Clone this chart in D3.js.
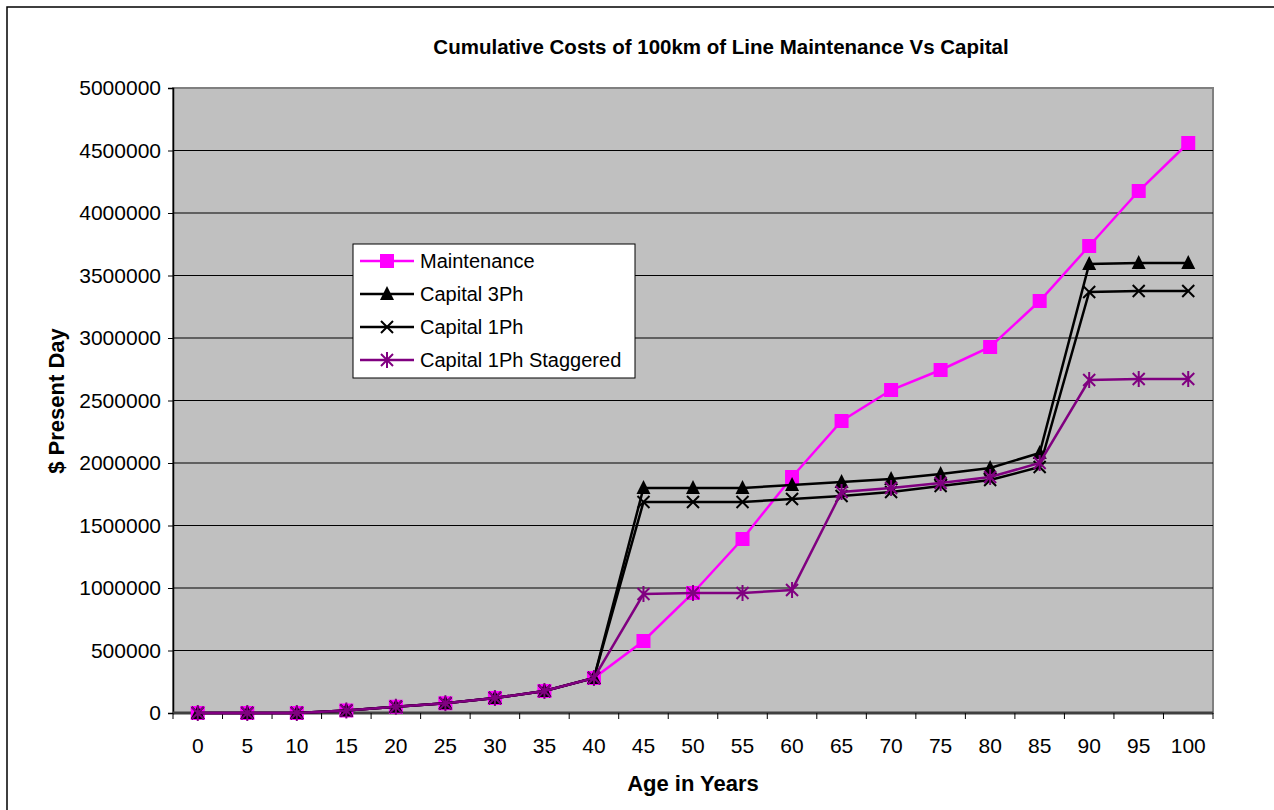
<!DOCTYPE html>
<html>
<head>
<meta charset="utf-8">
<script src="https://cdn.jsdelivr.net/npm/d3@7"></script>
<style>
  body { margin: 0; background: #fff; }
  svg text { font-family: Arial, "Liberation Sans", sans-serif; fill: #000; }
</style>
</head>
<body>
<div id="chart"></div>
<script>
//Data
const ages = [0,5,10,15,20,25,30,35,40,45,50,55,60,65,70,75,80,85,90,95,100];
const maintenance = [0,0,0,20000,50000,78000,120000,176000,280000,576000,960000,1392000,1888000,2336000,2584000,2744000,2928000,3296000,3736000,4176000,4560000];
const capital3Ph = [0,0,0,20000,50000,78000,120000,176000,280000,1800000,1800000,1800000,1824000,1848000,1872000,1912000,1960000,2080000,3592000,3600000,3600000];
const capital1Ph = [0,0,0,20000,50000,78000,120000,176000,280000,1688000,1688000,1688000,1712000,1736000,1768000,1816000,1864000,1968000,3368000,3376000,3376000];
const capital1PhStag = [0,0,0,20000,50000,78000,120000,176000,280000,952000,960000,960000,984000,1768000,1800000,1840000,1888000,2000000,2664000,2672000,2672000];
const yTicks = [0,500000,1000000,1500000,2000000,2500000,3000000,3500000,4000000,4500000,5000000];

const series = [
	{name: 'Maintenance', values: maintenance, color: '#FF00FF', marker: 'square'},
	{name: 'Capital 3Ph', values: capital3Ph, color: '#000000', marker: 'triangle'},
	{name: 'Capital 1Ph', values: capital1Ph, color: '#000000', marker: 'x'},
	{name: 'Capital 1Ph Staggered', values: capital1PhStag, color: '#800080', marker: 'star'}
];

const W = 1274, H = 810;
const plot = {left: 173, right: 1213, top: 88, bottom: 713};

const svg = d3.select('#chart').append('svg').attr('width', W).attr('height', H);

//outer frame (runs off the right and bottom)
svg.append('rect')
	.attr('x', 7).attr('y', 7).attr('width', W + 10).attr('height', H + 10)
	.style('fill', 'none').style('stroke', '#000').style('stroke-width', 1.5);

const x = d3.scaleBand().domain(ages).range([plot.left, plot.right]);
const y = d3.scaleLinear().domain([0, 5000000]).range([plot.bottom, plot.top]);

//plot area
svg.append('rect')
	.attr('x', plot.left).attr('y', plot.top)
	.attr('width', plot.right - plot.left).attr('height', plot.bottom - plot.top)
	.style('fill', '#C0C0C0').style('stroke', '#808080').style('stroke-width', 2);

//gridlines
svg.append('g').selectAll('line')
	.data(yTicks.filter(d => d > 0 && d < 5000000))
	.enter().append('line')
	.attr('x1', plot.left).attr('x2', plot.right)
	.attr('y1', d => y(d)).attr('y2', d => y(d))
	.style('stroke', '#000').style('stroke-width', 1);

//y axis
const yAxis = svg.append('g')
	.attr('transform', `translate(${plot.left},0)`)
	.call(d3.axisLeft(y).tickValues(yTicks).tickFormat(d3.format('d')).tickSize(5).tickPadding(7));
yAxis.selectAll('text').style('font-size', '21px');
yAxis.select('.domain').style('stroke', '#000').style('stroke-width', 1.5);

//x axis: ticks between categories, labels centred on them
const xAxis = svg.append('g')
	.attr('transform', `translate(0,${plot.bottom})`);
xAxis.append('line')
	.attr('x1', plot.left).attr('x2', plot.right)
	.style('stroke', '#404040').style('stroke-width', 3);
xAxis.selectAll('.tick')
	.data(d3.range(ages.length + 1))
	.enter().append('line').attr('class', 'tick')
	.attr('x1', i => plot.left + i * x.step()).attr('x2', i => plot.left + i * x.step())
	.attr('y1', 0).attr('y2', 6)
	.style('stroke', '#000').style('stroke-width', 1);
xAxis.selectAll('.lbl')
	.data(ages)
	.enter().append('text').attr('class', 'lbl')
	.attr('x', d => x(d) + x.bandwidth() / 2)
	.attr('y', 40)
	.attr('text-anchor', 'middle')
	.style('font-size', '21px')
	.text(d => d);

//titles
svg.append('text')
	.attr('x', 721).attr('y', 54)
	.attr('text-anchor', 'middle')
	.style('font-size', '20.5px').style('font-weight', 'bold')
	.text('Cumulative Costs of 100km of Line Maintenance Vs Capital');
svg.append('text')
	.attr('x', 693).attr('y', 791)
	.attr('text-anchor', 'middle')
	.style('font-size', '22px').style('font-weight', 'bold')
	.text('Age in Years');
svg.append('text')
	.attr('transform', 'translate(64,401) rotate(-90)')
	.attr('text-anchor', 'middle')
	.style('font-size', '22px').style('font-weight', 'bold')
	.text('$ Present Day');

//markers
function drawMarker(g, type, color){
	if(type === 'square'){
		g.append('rect').attr('x', -7).attr('y', -7).attr('width', 14).attr('height', 14)
			.style('fill', color);
	}else if(type === 'triangle'){
		g.append('path').attr('d', 'M0,-8L7,6L-7,6Z').style('fill', color);
	}else if(type === 'x'){
		g.append('path').attr('d', 'M-6,-6L6,6M-6,6L6,-6')
			.style('stroke', color).style('stroke-width', 2).style('fill', 'none');
	}else{
		g.append('path').attr('d', 'M-6,-6L6,6M-6,6L6,-6M0,-8L0,8')
			.style('stroke', color).style('stroke-width', 2).style('fill', 'none');
	}
}

const line = d3.line().x((d, i) => x(ages[i]) + x.bandwidth() / 2).y(d => y(d));

series.forEach(s => {
	const g = svg.append('g');
	g.append('path').datum(s.values)
		.attr('d', line)
		.style('fill', 'none').style('stroke', s.color).style('stroke-width', 2.5);
	g.selectAll('.pt').data(s.values).enter().append('g').attr('class', 'pt')
		.attr('transform', (d, i) => `translate(${x(ages[i]) + x.bandwidth() / 2},${y(d)})`)
		.each(function(){ drawMarker(d3.select(this), s.marker, s.color); });
});

//legend
const legend = svg.append('g').attr('transform', 'translate(353,244)');
legend.append('rect').attr('width', 282).attr('height', 134)
	.style('fill', '#fff').style('stroke', '#000').style('stroke-width', 1);
series.forEach((s, i) => {
	const row = legend.append('g').attr('transform', `translate(0,${17 + i * 33})`);
	row.append('line').attr('x1', 7).attr('x2', 61)
		.style('stroke', s.color).style('stroke-width', 2.5);
	drawMarker(row.append('g').attr('transform', 'translate(34,0)'), s.marker, s.color);
	row.append('text').attr('x', 67).attr('y', 7)
		.style('font-size', '20px')
		.text(s.name);
});
</script>
</body>
</html>
